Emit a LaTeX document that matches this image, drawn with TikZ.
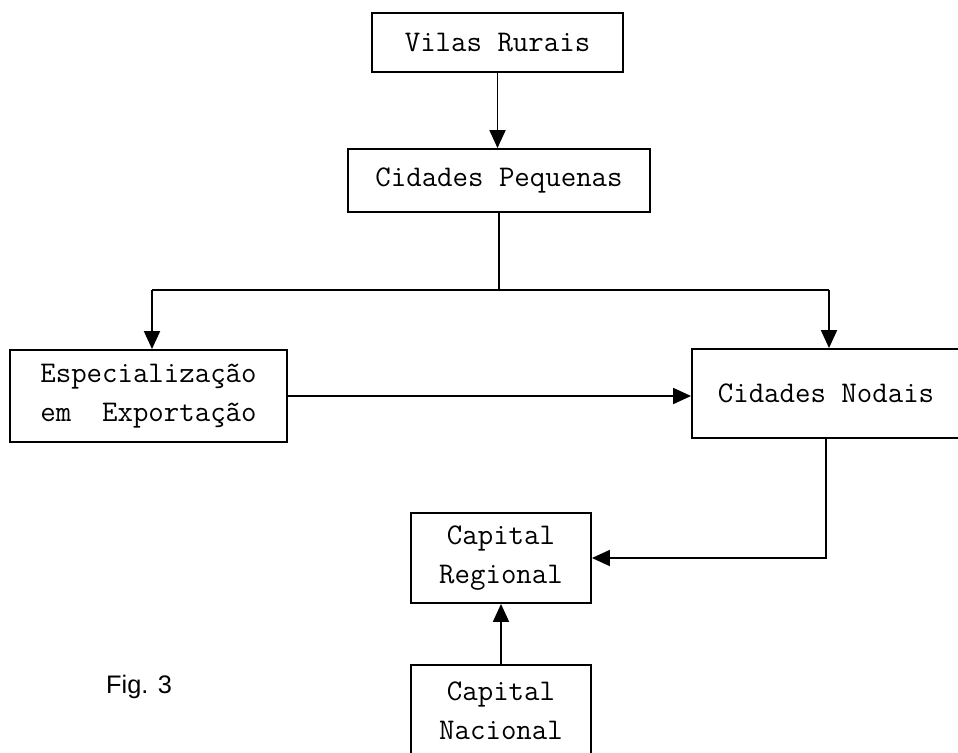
\documentclass[tikz,border=0pt]{standalone}
\usepackage{fontspec}
\newfontfamily\figfont{Liberation Sans}
\usetikzlibrary{arrows.meta}
\begin{document}
\begin{tikzpicture}[x=0.75pt,y=-0.75pt,
  box/.style={draw, line width=1.4pt, rectangle, align=center, inner sep=0pt,
              font=\fontsize{22.5}{29}\ttfamily},
  link/.style={line width=1.4pt},
  arr/.style={link, -{Triangle[length=13.5pt,width=12pt]}}]
\clip (0,0) rectangle (958,753);
\fill[white] (0,0) rectangle (958,753);

% boxes
\node[box, minimum width=188.25pt, minimum height=44.25pt] (vilas) at (497.5,42.5) {Vilas Rurais};
\node[box, minimum width=226.5pt, minimum height=47.25pt] (pequenas) at (499,180.5) {Cidades Pequenas};
\node[box, minimum width=207.75pt, minimum height=69pt] (espec) at (148.5,396) {Especialização\\em~~Exportação};
\node[box, minimum width=201pt, minimum height=66.75pt] (nodais) at (826,393.5) {Cidades Nodais};
\node[box, minimum width=135pt, minimum height=67.5pt] (regional) at (501,558) {Capital\\Regional};
\node[box, minimum width=135pt, minimum height=69pt] (nacional) at (501,711) {Capital\\Nacional};

% caption
\node[font=\fontsize{19}{22}\figfont] (fig) at (139,687) {Fig. 3};

% connectors
\coordinate (split) at (499,290);
\coordinate (lt) at (152,290);
\coordinate (rt) at (829,290);

\draw[arr] (vilas.south) -- (vilas.south |- pequenas.north);
\draw[link] (pequenas.south) -- (split);
\draw[link] (lt) -- (rt);
\draw[arr] (lt) -- (lt |- espec.north);
\draw[arr] (rt) -- (rt |- nodais.north);
\draw[arr] (espec.east) -- (espec.east -| nodais.west);
\draw[arr] (nodais.south) |- (regional.east);
\draw[arr] (nacional.north) -- (regional.south);
\end{tikzpicture}
\end{document}
